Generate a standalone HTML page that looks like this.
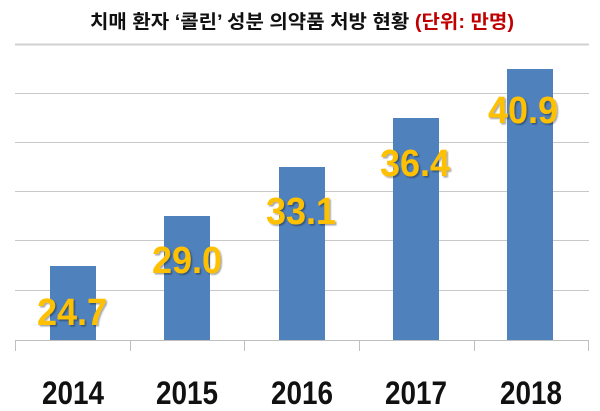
<!DOCTYPE html>
<html><head><meta charset="utf-8"><style>
html,body{margin:0;padding:0;background:#fff;}
svg{display:block;}
</style></head><body>
<svg width="600" height="411" xmlns="http://www.w3.org/2000/svg">
<defs><filter id="sh" x="-10%" y="-10%" width="130%" height="130%"><feDropShadow dx="1.5" dy="1.5" stdDeviation="0.8" flood-color="#000" flood-opacity="0.35"/></filter></defs>
<text x="302" y="28" text-anchor="middle" font-family="'Liberation Sans','Noto Sans CJK KR',sans-serif" font-weight="bold" font-size="19" fill="#111" textLength="424" lengthAdjust="spacingAndGlyphs">치매 환자 ‘콜린’ 성분 의약품 처방 현황 <tspan fill="#c00000">(단위: 만명)</tspan></text>
<line x1="15" y1="44.5" x2="589" y2="44.5" stroke="#d0d0d0" stroke-width="2"/>
<g stroke="#c8c8c8" stroke-width="1">
<line x1="15" y1="93.5" x2="589" y2="93.5"/>
<line x1="15" y1="142.5" x2="589" y2="142.5"/>
<line x1="15" y1="191.5" x2="589" y2="191.5"/>
<line x1="15" y1="240.5" x2="589" y2="240.5"/>
<line x1="15" y1="290.5" x2="589" y2="290.5"/>
</g>
<g fill="#4f81bd">
<rect x="50" y="266" width="46" height="74"/>
<rect x="164" y="216" width="46" height="124"/>
<rect x="279" y="167" width="46" height="173"/>
<rect x="393" y="118" width="46" height="222"/>
<rect x="507" y="69" width="46" height="271"/>
</g>
<g stroke="#bfbfbf" stroke-width="1">
<line x1="15" y1="340.5" x2="589" y2="340.5"/>
<line x1="15.5" y1="340" x2="15.5" y2="351"/>
<line x1="130.5" y1="340" x2="130.5" y2="351"/>
<line x1="244.5" y1="340" x2="244.5" y2="351"/>
<line x1="359.5" y1="340" x2="359.5" y2="351"/>
<line x1="474.5" y1="340" x2="474.5" y2="351"/>
<line x1="588.5" y1="340" x2="588.5" y2="351"/>
</g>
<g font-family="'Liberation Sans',sans-serif" font-weight="bold" font-size="38" fill="#ffc000" text-anchor="middle" filter="url(#sh)">
<text x="72" y="325" textLength="70" lengthAdjust="spacingAndGlyphs">24.7</text>
<text x="187" y="273" textLength="70" lengthAdjust="spacingAndGlyphs">29.0</text>
<text x="301" y="224" textLength="70" lengthAdjust="spacingAndGlyphs">33.1</text>
<text x="415" y="176" textLength="70" lengthAdjust="spacingAndGlyphs">36.4</text>
<text x="523" y="123" textLength="70" lengthAdjust="spacingAndGlyphs">40.9</text>
</g>
<g font-family="'Liberation Sans',sans-serif" font-weight="bold" font-size="32" fill="#111" text-anchor="middle">
<text x="73" y="404" textLength="62" lengthAdjust="spacingAndGlyphs">2014</text>
<text x="187" y="404" textLength="62" lengthAdjust="spacingAndGlyphs">2015</text>
<text x="302" y="404" textLength="62" lengthAdjust="spacingAndGlyphs">2016</text>
<text x="416" y="404" textLength="62" lengthAdjust="spacingAndGlyphs">2017</text>
<text x="531" y="404" textLength="62" lengthAdjust="spacingAndGlyphs">2018</text>
</g>
</svg>
</body></html>
